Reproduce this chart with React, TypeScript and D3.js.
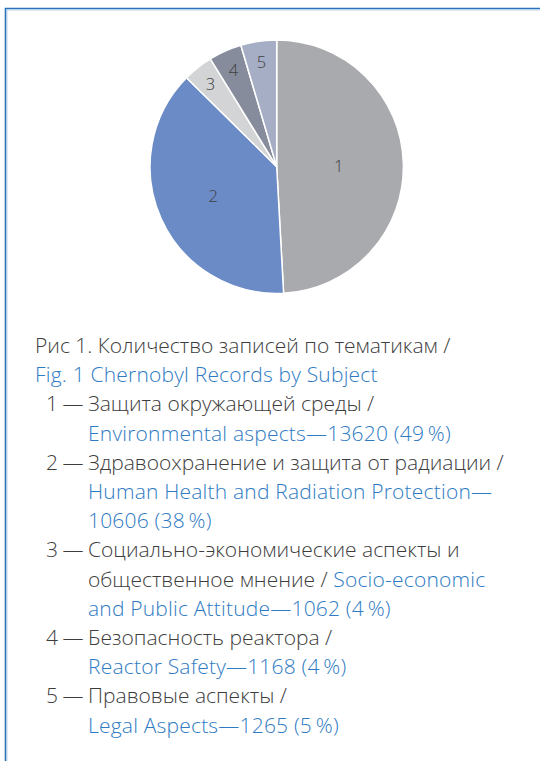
import React from "react";
import * as d3 from "d3";

const sliceIds = ["1", "2", "3", "4", "5"];
const counts = [13620, 10606, 1062, 1168, 1265];
const percents = [49, 38, 4, 4, 5];
const sliceColors = ["#a9aaad", "#6b8bc6", "#d3d4d6", "#878c9d", "#a5aec5"];
const topicsRu = [
  "Защита окружающей среды",
  "Здравоохранение и защита от радиации",
  "Социально-экономические аспекты и общественное мнение",
  "Безопасность реактора",
  "Правовые аспекты",
];
const topicsEn = [
  "Environmental aspects",
  "Human Health and Radiation Protection",
  "Socio-economic and Public Attitude",
  "Reactor Safety",
  "Legal Aspects",
];
const captionRu = "Рис 1. Количество записей по тематикам /";
const captionEn = "Fig. 1 Chernobyl Records by Subject";

const W = 540;
const H = 761;
const DARK = "#3d3d3d";
const BLUE = "#2f7bc3";
const FONT = "'Open Sans', 'Noto Sans', sans-serif";

type Seg = { t: string; c: string };
type Line = { num?: string; x: number; segs: Seg[] };

function buildLines(): Line[] {
  const pct = (i: number) => `${counts[i]} (${percents[i]}\u2009%)`;
  const ru3 = topicsRu[2].split(" ");
  const en3 = topicsEn[2].split(" ");
  return [
    { x: 35, segs: [{ t: captionRu, c: DARK }] },
    { x: 35, segs: [{ t: captionEn, c: BLUE }] },
    { num: sliceIds[0], x: 88, segs: [{ t: topicsRu[0] + " /", c: DARK }] },
    { x: 88, segs: [{ t: topicsEn[0] + "—" + pct(0), c: BLUE }] },
    { num: sliceIds[1], x: 88, segs: [{ t: topicsRu[1] + " /", c: DARK }] },
    { x: 88, segs: [{ t: topicsEn[1] + "—", c: BLUE }] },
    { x: 88, segs: [{ t: pct(1), c: BLUE }] },
    { num: sliceIds[2], x: 88, segs: [{ t: ru3.slice(0, 3).join(" "), c: DARK }] },
    {
      x: 88,
      segs: [
        { t: ru3.slice(3).join(" ") + " / ", c: DARK },
        { t: en3[0], c: BLUE },
      ],
    },
    { x: 88, segs: [{ t: en3.slice(1).join(" ") + "—" + pct(2), c: BLUE }] },
    { num: sliceIds[3], x: 88, segs: [{ t: topicsRu[3] + " /", c: DARK }] },
    { x: 88, segs: [{ t: topicsEn[3] + "—" + pct(3), c: BLUE }] },
    { num: sliceIds[4], x: 88, segs: [{ t: topicsRu[4] + " /", c: DARK }] },
    { x: 88, segs: [{ t: topicsEn[4] + "—" + pct(4), c: BLUE }] },
  ];
}

export default function App() {
  const cx = 276.7;
  const cy = 166.7;
  const R = 126.7;
  const labelFrac = [0.49, 0.55, 0.84, 0.84, 0.84];

  const pie = d3
    .pie<number>()
    .sort(null)
    .value((d) => d)(counts);
  const arc = d3.arc<d3.PieArcDatum<number>>().innerRadius(0).outerRadius(R);

  const lines = buildLines();
  const y0 = 353;
  const step = 29.2;
  const fs = 21;

  return (
    <svg
      width={W}
      height={H}
      style={{ position: "absolute", left: 0, top: 0, background: "#fff" }}
      fontFamily={FONT}
      fontWeight={300}
    >
      <rect x={0} y={0} width={W} height={H} fill="#fff" />
      <path d={`M5.5,${H} V8.5 H${W}`} fill="none" stroke="#2a70bd" strokeWidth={1.6} />
      <path d={`M7,${H} V10 H${W}`} fill="none" stroke="#a9c6e6" strokeWidth={0.8} />
      <g transform={`translate(${cx},${cy})`}>
        {pie.map((p, i) => (
          <path key={i} d={arc(p) || ""} fill={sliceColors[i]} stroke="#fff" strokeWidth={1.5} />
        ))}
        {pie.map((p, i) => {
          const a = (p.startAngle + p.endAngle) / 2;
          const r = R * labelFrac[i];
          return (
            <text
              key={"l" + i}
              x={Math.sin(a) * r}
              y={-Math.cos(a) * r}
              textAnchor="middle"
              dominantBaseline="central"
              fontSize={16.5}
              fill="#404040"
            >
              {sliceIds[i]}
            </text>
          );
        })}
      </g>
      {lines.map((ln, i) => (
        <g key={i}>
          {ln.num && (
            <>
              <text x={46} y={y0 + i * step} fontSize={fs} fill={DARK}>
                {ln.num}
              </text>
              <text x={83.5} y={y0 + i * step} fontSize={fs} fill={DARK} textAnchor="end">
                —
              </text>
            </>
          )}
          <text x={ln.x} y={y0 + i * step} fontSize={fs}>
            {ln.segs.map((s, j) => (
              <tspan key={j} fill={s.c} letterSpacing={s.c === BLUE ? 0.2 : 0}>
                {s.t}
              </tspan>
            ))}
          </text>
        </g>
      ))}
    </svg>
  );
}
